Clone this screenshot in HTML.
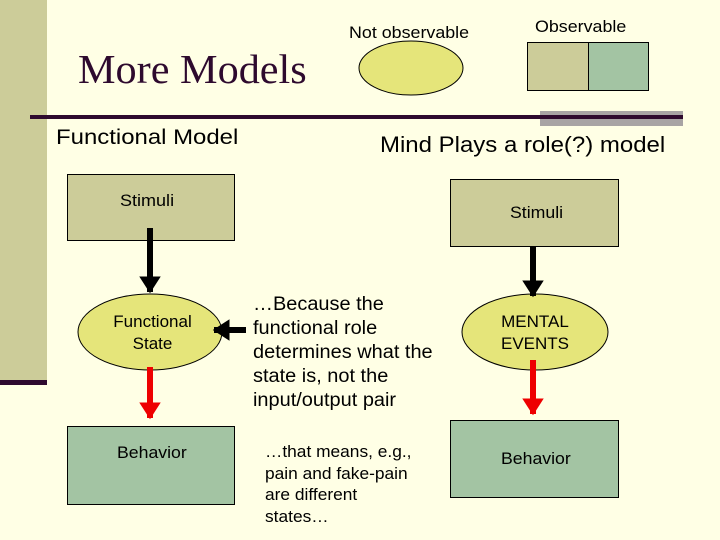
<!DOCTYPE html>
<html><head><meta charset="utf-8"><style>
body{margin:0;width:720px;height:540px;background:#FFFFE5;position:relative;overflow:hidden;font-family:"Liberation Sans",sans-serif;}
.t{position:absolute;white-space:nowrap;color:#000;transform-origin:0 0}
</style></head><body>
<svg width="720" height="540" style="position:absolute;left:0;top:0">
<defs>
<marker id="ab" markerWidth="5" markerHeight="5" refX="2.6" refY="2.5" orient="auto" markerUnits="strokeWidth"><path d="M0,0.7 L2.8,2.5 L0,4.3z" fill="#000"/></marker>
<marker id="ar" markerWidth="5" markerHeight="5" refX="2.6" refY="2.5" orient="auto" markerUnits="strokeWidth"><path d="M0,0.7 L2.8,2.5 L0,4.3z" fill="#e00"/></marker>
</defs>
<rect x="0" y="0" width="47" height="382" fill="#CCCC99"/>
<rect x="0" y="380" width="47" height="5" fill="#2E0A2E"/>
<rect x="540" y="111" width="143" height="15" fill="#A8A4A4"/>
<rect x="30" y="115" width="653" height="4" fill="#2E0A2E"/>
<ellipse cx="411" cy="68" rx="52" ry="27" fill="#E5E57A" stroke="#000" stroke-width="1"/>
<rect x="527.5" y="42.5" width="61" height="48" fill="#CCCC99" stroke="#000"/>
<rect x="588.5" y="42.5" width="60" height="48" fill="#A3C4A3" stroke="#000"/>
<rect x="67.5" y="174.5" width="167" height="66" fill="#CCCC99" stroke="#000"/>
<rect x="67.5" y="426.5" width="167" height="78" fill="#A3C4A3" stroke="#000"/>
<ellipse cx="150" cy="332" rx="72" ry="38" fill="#E5E57A" stroke="#000"/>
<line x1="150" y1="228" x2="150" y2="292" stroke="#000" stroke-width="6" marker-end="url(#ab)"/>
<line x1="150" y1="367" x2="150" y2="418" stroke="#e00" stroke-width="6" marker-end="url(#ar)"/>
<line x1="246" y1="330" x2="214" y2="330" stroke="#000" stroke-width="6" marker-end="url(#ab)"/>
<rect x="450.5" y="179.5" width="168" height="67" fill="#CCCC99" stroke="#000"/>
<rect x="450.5" y="420.5" width="168" height="77" fill="#A3C4A3" stroke="#000"/>
<ellipse cx="535" cy="332" rx="73" ry="38" fill="#E5E57A" stroke="#000"/>
<line x1="533" y1="246" x2="533" y2="296" stroke="#000" stroke-width="6" marker-end="url(#ab)"/>
<line x1="533" y1="360" x2="533" y2="414" stroke="#e00" stroke-width="6" marker-end="url(#ar)"/>
</svg>
<div class="t" style="left:349px;top:23px;font-size:17px;transform:scaleX(1.05)">Not observable</div>
<div class="t" style="left:535px;top:17px;font-size:17px;transform:scaleX(1.05)">Observable</div>
<div class="t" style="left:78px;top:45px;font-size:41px;font-family:'Liberation Serif',serif;color:#2E0A2E;transform:scaleX(1.03)">More Models</div>
<div class="t" style="left:56px;top:126px;font-size:21px;transform:scaleX(1.14)">Functional Model</div>
<div class="t" style="left:380px;top:132px;font-size:22px;transform:scaleX(1.09)">Mind Plays a role(?) model</div>
<div class="t" style="left:120px;top:191px;font-size:17px;transform:scaleX(1.06)">Stimuli</div>
<div class="t" style="left:80px;top:311px;width:145px;text-align:center;font-size:17px;line-height:22px">Functional<br>State</div>
<div class="t" style="left:117px;top:443px;font-size:17px;transform:scaleX(1.04)">Behavior</div>
<div class="t" style="left:253px;top:293px;font-size:19px;line-height:24px;transform:scaleX(1.05)">…Because the<br>functional role<br>determines what the<br>state is, not the<br>input/output pair</div>
<div class="t" style="left:265px;top:441px;font-size:17px;line-height:21.5px;transform:scaleX(1.02)">…that means, e.g.,<br>pain and fake-pain<br>are different<br>states…</div>
<div class="t" style="left:510px;top:203px;font-size:17px;transform:scaleX(1.04)">Stimuli</div>
<div class="t" style="left:462px;top:311px;width:146px;text-align:center;font-size:17px;line-height:22px">MENTAL<br>EVENTS</div>
<div class="t" style="left:501px;top:449px;font-size:17px;transform:scaleX(1.04)">Behavior</div>
</body></html>
